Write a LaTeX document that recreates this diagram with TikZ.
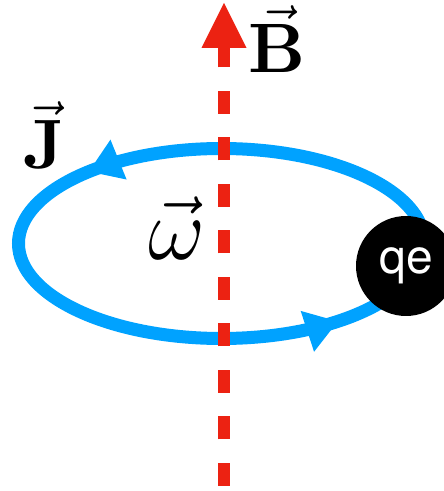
\RequirePackage{fix-cm}
\documentclass[tikz,border=0pt]{standalone}
\usepackage{fontspec}
\newfontfamily\chargefont{TeX Gyre Heros}
\newfontface\vecbf{lmroman10-bold.otf}
\usetikzlibrary{arrows.meta,decorations.markings}
\definecolor{loopblue}{RGB}{0,162,255}
\definecolor{fieldred}{RGB}{236,34,18}
\begin{document}
\begin{tikzpicture}[x=1pt, y=1pt,
  current/.style={draw=loopblue, line width=13pt},
  flow/.style={postaction={decorate, decoration={markings,
      mark=at position #1 with {\arrow{Triangle[length=32pt,width=43pt,line width=0pt]}}}}},
  field/.style={draw=fieldred, line width=12pt, dash pattern=on 23pt off 23.5pt,
      -{Triangle[length=45pt,width=45pt,line width=0pt]}},
  vlabel/.style={anchor=base, inner sep=0pt, font=\fontsize{70}{84}\selectfont},
  ]
  %%% picture frame %%%
  \clip (0,0) rectangle (444,491);

  %%% current loop %%%
  \coordinate (c) at (221.5,247.5);
  \draw[current, flow=0.39, flow=0.872] (c) ellipse [x radius=203, y radius=95];

  %%% magnetic field axis %%%
  \coordinate (bot) at (224,5);
  \coordinate (top) at (224,488);
  \draw[field] (bot) -- (top);

  %%% point charge %%%
  \node[circle, fill=black, minimum size=100pt, inner sep=0pt,
        text=white, font=\chargefont\fontsize{48}{56}\selectfont] (qe) at (406,225) {qe};

  %%% labels %%%
  \node[vlabel] (B) at (277,418) {$\vec{\hbox{\vecbf B}}$};
  \node[vlabel] (J) at (44,322) {$\vec{\hbox{\vecbf J}}$};
  \node[vlabel, font=\fontsize{88}{104}\selectfont] (omega) at (177,231) {$\vec{\omega}$};
\end{tikzpicture}
\end{document}
